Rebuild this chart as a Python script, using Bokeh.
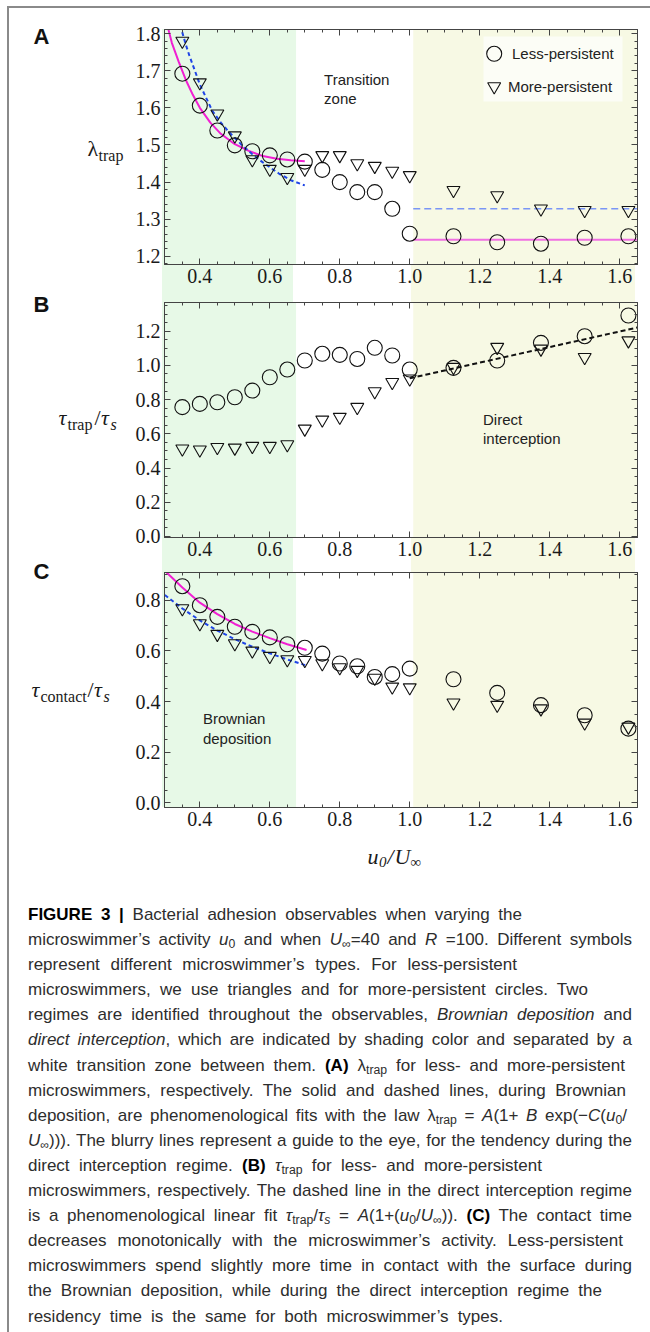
from bokeh.plotting import figure
from bokeh.models import (Range1d, FixedTicker, NumeralTickFormatter, LinearAxis,
                          BoxAnnotation, Div)
from bokeh.layouts import column, row
from bokeh.core.properties import value
from bokeh.embed import file_html
from bokeh.resources import INLINE

# ---------------- data ----------------
u_ratio = [0.35, 0.40, 0.45, 0.50, 0.55, 0.60, 0.65, 0.70, 0.75, 0.80,
           0.85, 0.90, 0.95, 1.00, 1.125, 1.25, 1.375, 1.50, 1.625]

lam_less = [1.692, 1.606, 1.539, 1.499, 1.483, 1.472, 1.461, 1.455, 1.433, 1.400,
            1.373, 1.373, 1.328, 1.261, 1.254, 1.238, 1.234, 1.250, 1.254]
lam_more = [1.780, 1.668, 1.584, 1.525, 1.461, 1.435, 1.413, 1.435, 1.472, 1.472,
            1.450, 1.443, 1.430, 1.418, 1.378, 1.364, 1.328, 1.324, 1.324]

ttrap_less = [0.756, 0.775, 0.785, 0.814, 0.853, 0.931, 0.976, 1.029, 1.068, 1.062,
              1.038, 1.103, 1.058, 0.976, 0.986, 1.029, 1.132, 1.171, 1.292]
ttrap_more = [0.513, 0.507, 0.522, 0.518, 0.528, 0.528, 0.538, 0.629, 0.682, 0.698,
              0.756, 0.848, 0.902, 0.922, 0.990, 1.107, 1.097, 1.048, 1.145]

tcont_less = [0.855, 0.780, 0.734, 0.695, 0.675, 0.653, 0.626, 0.612, 0.589, 0.550,
              0.539, 0.497, 0.508, 0.530, 0.488, 0.434, 0.386, 0.346, 0.293]
tcont_more = [0.767, 0.708, 0.666, 0.629, 0.600, 0.579, 0.566, 0.563, 0.550, 0.534,
              0.524, 0.493, 0.458, 0.455, 0.395, 0.386, 0.372, 0.316, 0.300]

# fitted / guide curves
lam_fit_less_x = [0.305, 0.32, 0.34, 0.36, 0.38, 0.40, 0.43, 0.46, 0.50, 0.54, 0.58, 0.62, 0.66, 0.70]
lam_fit_less_y = [1.830, 1.775, 1.723, 1.675, 1.635, 1.600, 1.560, 1.530, 1.502, 1.484, 1.470, 1.463, 1.459, 1.456]
lam_fit_more_x = [0.344, 0.36, 0.37, 0.40, 0.435, 0.46, 0.483, 0.52, 0.55, 0.58, 0.626, 0.66, 0.70]
lam_fit_more_y = [1.822, 1.770, 1.741, 1.663, 1.593, 1.560, 1.535, 1.500, 1.475, 1.453, 1.423, 1.405, 1.391]
lam_guide_x = [1.01, 1.651]
lam_guide_less_y = [1.245, 1.245]
lam_guide_more_y = [1.328, 1.328]

ttrap_fit_x = [1.00, 1.651]
ttrap_fit_y = [0.925, 1.222]

tcont_fit_less_x = [0.305, 0.35, 0.40, 0.45, 0.50, 0.55, 0.60, 0.65, 0.705]
tcont_fit_less_y = [0.909, 0.850, 0.790, 0.745, 0.706, 0.676, 0.650, 0.626, 0.603]
tcont_fit_more_x = [0.30, 0.35, 0.40, 0.45, 0.50, 0.55, 0.60, 0.65, 0.705]
tcont_fit_more_y = [0.820, 0.767, 0.720, 0.680, 0.646, 0.616, 0.590, 0.566, 0.542]

# regimes (x extents)
brownian_zone = (0.299, 0.675)
direct_zone = (1.01, 1.651)

# ticks
x_ticks = [0.4, 0.6, 0.8, 1.0, 1.2, 1.4, 1.6]
lam_ticks = [1.2, 1.3, 1.4, 1.5, 1.6, 1.7, 1.8]
ttrap_ticks = [0.0, 0.2, 0.4, 0.6, 0.8, 1.0, 1.2]
tcont_ticks = [0.0, 0.2, 0.4, 0.6, 0.8]

x_minor = [round(0.30 + 0.05 * i, 3) for i in range(28)]
lam_minor = [round(1.18 + 0.02 * i, 3) for i in range(32)]
ttrap_minor = [round(0.05 * i, 3) for i in range(28)]
tcont_minor = [round(0.05 * i, 3) for i in range(19)]

# ---------------- layout constants (page pixels) ----------------
OX, OY = 7, 6                 # origin of the whole layout on the page
XR = (0.299, 1.651)
A_R = (1.178, 1.811)
B_R = (-0.006, 1.368)
C_R = (-0.018, 0.909)
FW, FH = 473, 235
LABW = 125                    # width of the left title strip
PANEL_LEFT = 30               # border left of each panel frame
FL = OX + LABW + PANEL_LEFT   # page x of frame left (162)
TOP_A, TOP_B, TOP_C = 29, 302, 572

GREEN = "#e7f9e7"
YELLOW = "#f7f9e4"
MAGENTA = "#f020d2"
BLUE = "#1f45e6"
INK = "#111111"
SERIF = "Liberation Serif"
SANS = "Liberation Sans"


def px2x(px):
    return XR[0] + (px - FL) * (XR[1] - XR[0]) / FW


def x2host(x):
    return PANEL_LEFT + (x - XR[0]) * FW / (XR[1] - XR[0])


def py2y(py, top, yr):
    return yr[1] - (py - top) * (yr[1] - yr[0]) / FH


def band_css(top_px=0, bottom_px=0):
    g0, g1 = x2host(brownian_zone[0]), x2host(brownian_zone[1])
    y0, y1 = x2host(direct_zone[0]), x2host(direct_zone[1])
    grad = (f"linear-gradient(to right, transparent {g0:.1f}px, {GREEN} {g0:.1f}px, "
            f"{GREEN} {g1:.1f}px, transparent {g1:.1f}px, transparent {y0:.1f}px, "
            f"{YELLOW} {y0:.1f}px, {YELLOW} {y1:.1f}px, transparent {y1:.1f}px)")
    return {"background": f"{grad} 0px {top_px}px / 100% calc(100% - {top_px + bottom_px}px) no-repeat"}


def style_axis(ax, labels):
    ax.axis_line_color = "#444444"
    ax.axis_line_width = 1
    ax.major_tick_line_color = "#444444"
    ax.minor_tick_line_color = "#444444"
    ax.major_tick_in = 6
    ax.major_tick_out = 0
    ax.minor_tick_in = 3
    ax.minor_tick_out = 0
    if labels:
        ax.major_label_text_font = SERIF
        ax.major_label_text_font_size = "20px"
        ax.major_label_text_color = "#1a1a1a"
        ax.major_label_standoff = 4
    else:
        ax.major_label_text_font_size = "0px"
        ax.major_label_text_alpha = 0
        ax.major_label_standoff = 0


def shade(p, zone, ybot, ytop, color):
    p.add_layout(BoxAnnotation(left=zone[0], right=zone[1], bottom=ybot, top=ytop,
                               fill_color=color, fill_alpha=1.0, line_color=None,
                               level="underlay"))


def panel(yr, yticks, yminor, top, bottom, css):
    p = figure(frame_width=FW, frame_height=FH, x_range=Range1d(*XR), y_range=Range1d(*yr),
               x_axis_type=None, y_axis_type=None, output_backend="svg",
               toolbar_location=None, min_border_left=PANEL_LEFT, min_border_right=6,
               min_border_top=top, min_border_bottom=bottom, styles=css)
    fmt = NumeralTickFormatter(format="0.0")
    xt = FixedTicker(ticks=x_ticks, minor_ticks=x_minor)
    yt = FixedTicker(ticks=yticks, minor_ticks=yminor)
    b = LinearAxis(ticker=xt, formatter=fmt)
    style_axis(b, True)
    p.add_layout(b, "below")
    t = LinearAxis(ticker=xt)
    style_axis(t, False)
    p.add_layout(t, "above")
    l = LinearAxis(ticker=yt, formatter=fmt)
    style_axis(l, True)
    p.add_layout(l, "left")
    r = LinearAxis(ticker=yt)
    style_axis(r, False)
    p.add_layout(r, "right")
    p.outline_line_color = "#444444"
    p.border_fill_alpha = 0
    p.background_fill_color = "white"
    shade(p, brownian_zone, yr[0], yr[1], GREEN)
    shade(p, direct_zone, yr[0], yr[1], YELLOW)
    return p


def words(p, items, top, yr):
    p.text(x=[px2x(a) for a, _, _ in items], y=[py2y(b, top, yr) for _, b, _ in items],
           text=[s for _, _, s in items], text_font=value(SANS), text_font_size=value("15px"),
           text_baseline=value("middle"), text_align=value("left"), text_color="#222222")


def markers(p, less, more):
    p.scatter(u_ratio, less, marker="circle", size=15, fill_color=None,
              line_color=INK, line_width=1.1)
    p.scatter(u_ratio, more, marker="inverted_triangle", size=13, fill_color=None,
              line_color=INK, line_width=1.1)


def blank(w, h):
    f = figure(width=w, height=h, x_range=Range1d(0, w), y_range=Range1d(h, 0),
               x_axis_type=None, y_axis_type=None, output_backend="svg",
               toolbar_location=None, min_border=0, title=None)
    f.outline_line_color = None
    f.background_fill_alpha = 0
    f.border_fill_alpha = 0
    return f


def put(f, ox, oy, items, font, size, style="normal", color="#1a1a1a"):
    # items: (left x, baseline y) in page pixels; drawn with a middle anchor
    f.text(x=[a - ox for a, _, _ in items], y=[b - oy - 0.34 * size for _, b, _ in items],
           text=[s for _, _, s in items], text_font=value(font),
           text_font_size=value(f"{size}px"), text_font_style=value(style),
           text_color=color, text_align=value("left"), text_baseline=value("middle"))


# ---------------- panel A ----------------
pA = panel(A_R, lam_ticks, lam_minor, TOP_A - OY, 38, band_css(top_px=TOP_A - OY))
pA.quad(left=[px2x(481)], right=[px2x(620)], top=[py2y(36, TOP_A, A_R)],
        bottom=[py2y(101, TOP_A, A_R)], fill_color="#fcfdf6", line_color=None)
pA.line(lam_guide_x, lam_guide_more_y, line_color="#7a96f5", line_width=1.6, line_dash="7 4")
pA.line(lam_guide_x, lam_guide_less_y, line_color="#f070e2", line_width=2)
pA.line(lam_fit_less_x, lam_fit_less_y, line_color=MAGENTA, line_width=2)
pA.line(lam_fit_more_x, lam_fit_more_y, line_color=BLUE, line_width=2, line_dash="4 3")
markers(pA, lam_less, lam_more)
pA.scatter([px2x(491.7)], [py2y(53.3, TOP_A, A_R)], marker="circle", size=15,
           fill_color=None, line_color=INK, line_width=1.1)
pA.scatter([px2x(491.7)], [py2y(86, TOP_A, A_R)], marker="inverted_triangle", size=13,
           fill_color=None, line_color=INK, line_width=1.1)
words(pA, [(509.5, 53.3, "Less-persistent"), (505.4, 86, "More-persistent"),
           (321.6, 79, "Transition"), (321.6, 98, "zone")], TOP_A, A_R)

# ---------------- panel B ----------------
pB = panel(B_R, ttrap_ticks, ttrap_minor, 0, 35, band_css())
pB.line(ttrap_fit_x, ttrap_fit_y, line_color=INK, line_width=2, line_dash="5 3")
markers(pB, ttrap_less, ttrap_more)
words(pB, [(480.5, 419.3, "Direct"), (480.5, 438.3, "interception")], TOP_B, B_R)

# ---------------- panel C ----------------
pC = panel(C_R, tcont_ticks, tcont_minor, 0, 30, band_css(bottom_px=30))
pC.line(tcont_fit_less_x, tcont_fit_less_y, line_color=MAGENTA, line_width=2)
pC.line(tcont_fit_more_x, tcont_fit_more_y, line_color=BLUE, line_width=2, line_dash="4 3")
markers(pC, tcont_less, tcont_more)
words(pC, [(200.4, 718.3, "Brownian"), (200.4, 737.7, "deposition")], TOP_C, C_R)

PANELS_H = (TOP_A - OY + FH + 38) + (FH + 35) + (FH + 30)   # 831

# ---------------- left strip: panel letters and y titles ----------------
lab = blank(LABW, PANELS_H)
put(lab, OX, OY, [(33, 43, "A"), (33, 311, "B"), (33, 578, "C")], SANS, 22, "bold", "#111111")
put(lab, OX, OY, [(87, 155, "λ"), (94, 424, "/"), (87, 696, "/")], SERIF, 22)
put(lab, OX, OY, [(58, 424, "τ"), (100.5, 424, "τ"), (31, 696, "τ"), (93.5, 696, "τ")],
    SERIF, 22, "italic")
put(lab, OX, OY, [(98, 160, "trap"), (67, 429, "trap"), (40, 701, "contact")], SERIF, 16)
put(lab, OX, OY, [(110, 429, "s"), (103, 701, "s")], SERIF, 16, "italic")

# ---------------- x title strip ----------------
XT_TOP = OY + PANELS_H
xt_fig = blank(LABW + PANEL_LEFT + FW + 6, 899 - XT_TOP)
put(xt_fig, OX, XT_TOP, [(367, 863, "u"), (387, 863, "/"), (394, 863, "U")], SERIF, 22, "italic")
put(xt_fig, OX, XT_TOP, [(378.5, 867, "0")], SERIF, 15, "italic")
put(xt_fig, OX, XT_TOP, [(410, 867, "∞")], SERIF, 15)

# ---------------- caption ----------------
SUB = '<span style="font-size:0.72em;vertical-align:-0.28em;line-height:0">{}</span>'


def I(s):
    return f"<i>{s}</i>"


def Bd(s):
    return f'<b style="color:#000">{s}</b>'


u0 = I("u") + SUB.format("0")
Uinf = I("U") + SUB.format("∞")
lam = "λ" + SUB.format("trap")
ttrap = I("τ") + SUB.format("trap")
taus = I("τ") + SUB.format(I("s"))

cap_lines = [
    Bd("FIGURE 3 |") + " Bacterial adhesion observables when varying the",
    "microswimmer’s activity " + u0 + " and when " + Uinf + "=40 and " + I("R") + " =100. Different symbols",
    "represent different microswimmer’s types. For less-persistent",
    "microswimmers, we use triangles and for more-persistent circles. Two",
    "regimes are identified throughout the observables, " + I("Brownian deposition") + " and",
    I("direct interception") + ", which are indicated by shading color and separated by a",
    "white transition zone between them. " + Bd("(A)") + " " + lam + " for less- and more-persistent",
    "microswimmers, respectively. The solid and dashed lines, during Brownian",
    "deposition, are phenomenological fits with the law " + lam + " = " + I("A") + "(1+ " + I("B")
    + " exp(−" + I("C") + "(" + u0 + "/",
    Uinf + "))). The blurry lines represent a guide to the eye, for the tendency during the",
    "direct interception regime. " + Bd("(B)") + " " + ttrap + " for less- and more-persistent",
    "microswimmers, respectively. The dashed line in the direct interception regime",
    "is a phenomenological linear fit " + ttrap + "/" + taus + " = " + I("A") + "(1+(" + u0 + "/"
    + Uinf + ")). " + Bd("(C)") + " The contact time",
    "decreases monotonically with the microswimmer’s activity. Less-persistent",
    "microswimmers spend slightly more time in contact with the surface during",
    "the Brownian deposition, while during the direct interception regime the",
    "residency time is the same for both microswimmer’s types.",
]
cap_ends = [517, 627, 512, 583, 627, 627, 620, 621, 622, 627, 537, 627, 627, 618, 627, 597, 498]

inner = "".join(
    f'<div style="width:{e - 23}px;height:25.1px;line-height:25.1px;white-space:nowrap;'
    f'text-align:justify;text-align-last:justify">{ln}</div>'
    for ln, e in zip(cap_lines, cap_ends)
)
html = (f'<div style="font-family:\'{SANS}\';font-size:17px;color:#2d2d2d;'
        f'padding-left:{23 - OX}px;margin:-2px 0 0 0">{inner}</div>')
cap = Div(text=html, width=LABW + PANEL_LEFT + FW + 6, height=425)

layout = column(row(lab, column(pA, pB, pC, spacing=0), spacing=0), xt_fig, cap, spacing=0,
                styles={"margin-left": f"{OX}px", "margin-top": f"{OY}px",
                        "box-shadow": "inset 2px 2px 0 0 #8a8a8a"})

open("out.html", "w").write(file_html(layout, INLINE, "Figure 3"))
